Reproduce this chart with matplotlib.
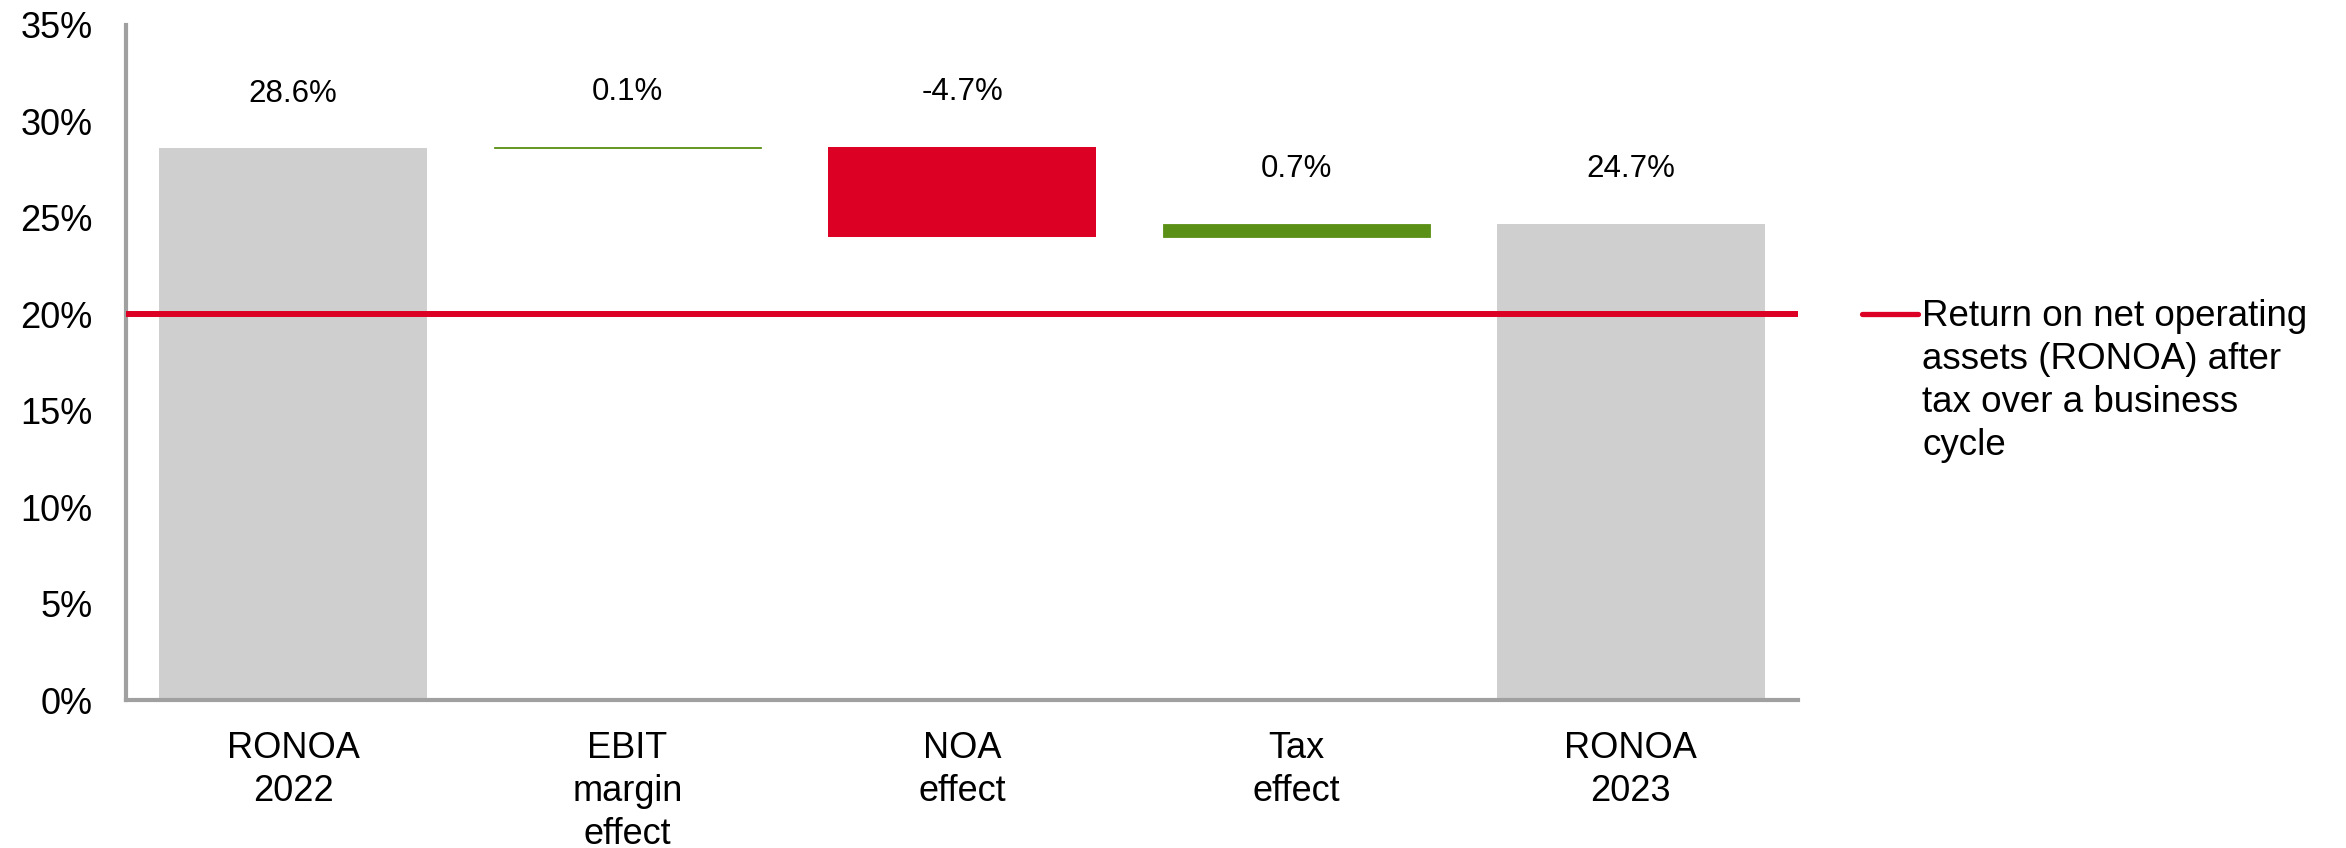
import matplotlib
matplotlib.use("Agg")
import matplotlib.pyplot as plt
from matplotlib.lines import Line2D
from matplotlib.transforms import blended_transform_factory

plt.rcParams['font.family'] = ['Liberation Sans', 'DejaVu Sans']

# ---- data ----
categories = ["RONOA\n2022", "EBIT\nmargin\neffect", "NOA\neffect", "Tax\neffect", "RONOA\n2023"]
start_value = 28.6
deltas = [0.1, -4.7, 0.7]
end_value = 24.7
value_labels = ["28.6%", "0.1%", "-4.7%", "0.7%", "24.7%"]
threshold = 20.0
threshold_label = "Return on net operating\nassets (RONOA) after\ntax over a business\ncycle"
yticks = [0, 5, 10, 15, 20, 25, 30, 35]

GRAY = "#CFCFCF"
GREEN = "#5B9016"
RED = "#DC0024"
AXIS = "#A0A0A0"

W, H, DPI = 2346, 848, 100
fig = plt.figure(figsize=(W / DPI, H / DPI), dpi=DPI)
ax = fig.add_axes([126 / W, 1 - 700 / H, (1798 - 126) / W, (700 - 25) / H])

bottoms, heights, colors, tops = [], [], [], []
bottoms.append(0); heights.append(start_value); colors.append(GRAY); tops.append(start_value)
running = start_value
for d in deltas:
    new = running + d
    bottoms.append(min(running, new))
    heights.append(abs(d))
    colors.append(GREEN if d >= 0 else RED)
    tops.append(max(running, new))
    running = new
bottoms.append(0); heights.append(end_value); colors.append(GRAY); tops.append(end_value)

x = list(range(len(categories)))
edge_w = [0.6 if c == GREEN else 0 for c in colors]
ax.bar(x, heights, bottom=bottoms, width=0.8, color=colors, edgecolor=colors,
       linewidth=edge_w, zorder=2)

for xi, top, lab in zip(x, tops, value_labels):
    ax.annotate(lab, xy=(xi, top), xytext=(0, 39), textcoords="offset points",
                ha="center", va="center", fontsize=22.5, color="black")

ax.axhline(threshold, color=RED, lw=4.3, zorder=3)

ax.set_xlim(-0.5, 4.5)
ax.set_ylim(0, 35)
ax.set_yticks(yticks)
ax.set_yticklabels([f"{t}%" for t in yticks], fontsize=26)
ax.set_xticks(x)
ax.set_xticklabels(categories, fontsize=26, linespacing=1.31)
ax.tick_params(axis="both", length=0)
ax.tick_params(axis="y", pad=24)
ax.tick_params(axis="x", pad=22)

for s in ["top", "right"]:
    ax.spines[s].set_visible(False)
for s in ["left", "bottom"]:
    ax.spines[s].set_color(AXIS)
    ax.spines[s].set_linewidth(3)

# legend (manual)
tr = blended_transform_factory(fig.transFigure, ax.transData)
fig.add_artist(Line2D([1862 / W, 1918 / W], [threshold, threshold], transform=tr,
                      color=RED, lw=3.8, solid_capstyle="round"))
ax.annotate(threshold_label, xy=(1922 / W, threshold), xycoords=tr,
            xytext=(0, 11), textcoords="offset points", ha="left", va="top",
            fontsize=26.5, linespacing=1.3, annotation_clip=False)

fig.savefig("out.png", dpi=DPI)
